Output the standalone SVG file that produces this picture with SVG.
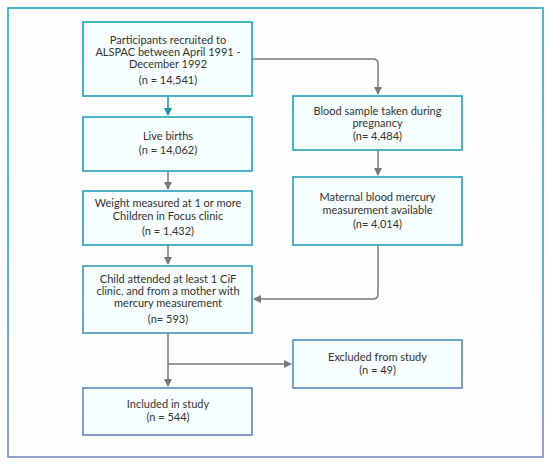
<svg xmlns="http://www.w3.org/2000/svg" width="550" height="465" viewBox="0 0 550 465">
<defs>
<linearGradient id="g" gradientUnits="userSpaceOnUse" x1="0" y1="0" x2="0" y2="465">
<stop offset="0" stop-color="#1fabbf"/>
<stop offset="0.55" stop-color="#3aa0c0"/>
<stop offset="1" stop-color="#7d84c8"/>
</linearGradient>
<marker id="ag" markerWidth="8" markerHeight="8" refX="7" refY="4" orient="auto" markerUnits="userSpaceOnUse">
<path d="M0,0 L8,4 L0,8 Z" fill="#787878"/>
</marker>
<marker id="at" markerWidth="8" markerHeight="8" refX="7" refY="4" orient="auto" markerUnits="userSpaceOnUse">
<path d="M0,0 L8,4 L0,8 Z" fill="#1f8fac"/>
</marker>
</defs>
<style>
.box{fill:#f7feff;stroke:url(#g);stroke-width:1.7}
text{font-family:Lato,"Noto Sans",sans-serif;font-size:11px;fill:#333;text-anchor:middle}
.c{fill:none;stroke:#787878;stroke-width:1.5}
</style>
<rect x="0" y="0" width="550" height="465" fill="#ffffff"/>
<rect x="8" y="8" width="535" height="449" fill="#fdffff" stroke="url(#g)" stroke-width="1.6"/>
<g id="connectors">
<path class="c" d="M252,59 H373 Q378,59 378,64 V94" marker-end="url(#ag)"/>
<path d="M168,96 V115" fill="none" stroke="#1f8fac" stroke-width="1.5" marker-end="url(#at)"/>
<path class="c" d="M168,171 V189" marker-end="url(#ag)"/>
<path class="c" d="M168,245 V264" marker-end="url(#ag)"/>
<path class="c" d="M378,150 V175" marker-end="url(#ag)"/>
<path class="c" d="M378,245 V294 Q378,299 373,299 H254" marker-end="url(#ag)"/>
<path class="c" d="M168,333 V386" marker-end="url(#ag)"/>
<path class="c" d="M168,364 H291" marker-end="url(#ag)"/>
</g>
<g id="n1"><rect class="box" x="83" y="22" width="169" height="74"/>
<text x="168" y="44">Participants recruited to</text>
<text x="168" y="56">ALSPAC between April 1991 -</text>
<text x="168" y="68">December 1992</text>
<text x="168" y="84">(n = 14,541)</text></g>
<g id="n2"><rect class="box" x="83" y="117" width="169" height="54"/>
<text x="168" y="139.5">Live births</text>
<text x="168" y="154">(n = 14,062)</text></g>
<g id="n3"><rect class="box" x="83" y="191" width="169" height="54"/>
<text x="168" y="207">Weight measured at 1 or more</text>
<text x="168" y="220">Children in Focus clinic</text>
<text x="168" y="235">(n = 1,432)</text></g>
<g id="n4"><rect class="box" x="83" y="266" width="169" height="67"/>
<text x="168" y="283">Child attended at least 1 CiF</text>
<text x="168" y="295">clinic, and from a mother with</text>
<text x="168" y="307">mercury measurement</text>
<text x="168" y="323">(n= 593)</text></g>
<g id="n5"><rect class="box" x="83" y="388" width="169" height="47"/>
<text x="168" y="408">Included in study</text>
<text x="168" y="421">(n = 544)</text></g>
<g id="nb"><rect class="box" x="293" y="96" width="169" height="54"/>
<text x="377.5" y="115">Blood sample taken during</text>
<text x="377.5" y="127">pregnancy</text>
<text x="377.5" y="140">(n= 4,484)</text></g>
<g id="nm"><rect class="box" x="293" y="177" width="169" height="68"/>
<text x="377.5" y="201">Maternal blood mercury</text>
<text x="377.5" y="214">measurement available</text>
<text x="377.5" y="228">(n= 4,014)</text></g>
<g id="ne"><rect class="box" x="293" y="340" width="169" height="48"/>
<text x="377.5" y="361">Excluded from study</text>
<text x="377.5" y="374">(n = 49)</text></g>
</svg>
